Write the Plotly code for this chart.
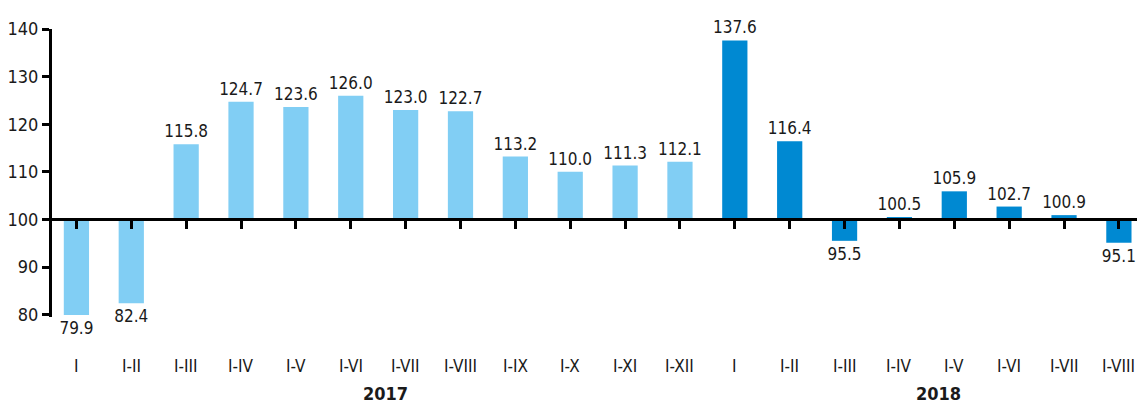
import plotly.graph_objects as go

categories = ["I", "I-II", "I-III", "I-IV", "I-V", "I-VI", "I-VII", "I-VIII", "I-IX", "I-X", "I-XI", "I-XII",
              "I", "I-II", "I-III", "I-IV", "I-V", "I-VI", "I-VII", "I-VIII"]
values = [79.9, 82.4, 115.8, 124.7, 123.6, 126.0, 123.0, 122.7, 113.2, 110.0, 111.3, 112.1,
          137.6, 116.4, 95.5, 100.5, 105.9, 102.7, 100.9, 95.1]
years = ["2017"] * 12 + ["2018"] * 8
year_labels = ["2017", "2018"]
y_ticks = [80, 90, 100, 110, 120, 130, 140]
color_map = {"2017": "#81CEF4", "2018": "#0089D2"}
BASE = 100
Y_MIN, Y_MAX = 79.5, 140

FONT = "Liberation Sans Narrow, DejaVu Sans Condensed, Arial Narrow, sans-serif"

idx = list(range(len(categories)))
fig = go.Figure()
fig.add_trace(go.Bar(
    x=idx,
    y=[v - BASE for v in values],
    base=BASE,
    marker=dict(color=[color_map[y] for y in years], line=dict(width=0)),
    text=[f"{v:.1f}" for v in values],
    textposition="outside",
    constraintext="none",
    textfont=dict(family=FONT, size=17, color="#1a1a1a"),
    cliponaxis=False,
    width=0.46,
    hoverinfo="skip",
))

annotations = []
for i, c in enumerate(categories):
    annotations.append(dict(x=i, y=0, xref="x", yref="paper", text=c, showarrow=False,
                            yshift=-49, yanchor="middle",
                            font=dict(family=FONT, size=17, color="#1a1a1a")))
year_xshift = [7, 12]
for k, yl in enumerate(year_labels):
    pos = [i for i, y in enumerate(years) if y == yl]
    center = (pos[0] + pos[-1]) / 2
    annotations.append(dict(x=center, y=0, xref="x", yref="paper", text=f"<b>{yl}</b>",
                            showarrow=False, yshift=-76, xshift=year_xshift[k], yanchor="middle",
                            font=dict(family=FONT, size=18, color="#1a1a1a")))

fig.update_layout(
    width=1137, height=404,
    margin=dict(l=52, r=0, t=29, b=87),
    plot_bgcolor="white", paper_bgcolor="white",
    showlegend=False,
    bargap=0.54,
    annotations=annotations,
    xaxis=dict(
        range=[-0.445, 19.33],
        anchor="free", position=(BASE - Y_MIN) / (Y_MAX - Y_MIN),
        showline=True, linecolor="black", linewidth=3,
        ticks="outside", ticklen=8, tickwidth=3, tickcolor="black",
        tickmode="array", tickvals=idx, tickson="boundaries",
        showticklabels=False, showgrid=False, zeroline=False,
    ),
    yaxis=dict(
        range=[Y_MIN, Y_MAX], tickvals=y_ticks,
        showline=True, linecolor="black", linewidth=3,
        ticks="outside", ticklen=7, tickwidth=3, tickcolor="black",
        tickfont=dict(family=FONT, size=18, color="#1a1a1a"),
        showgrid=False, zeroline=False,
    ),
)

fig.write_html("out.html", config={"displayModeBar": False},
               post_script="document.body.style.margin='0';document.body.style.overflow='hidden';")
